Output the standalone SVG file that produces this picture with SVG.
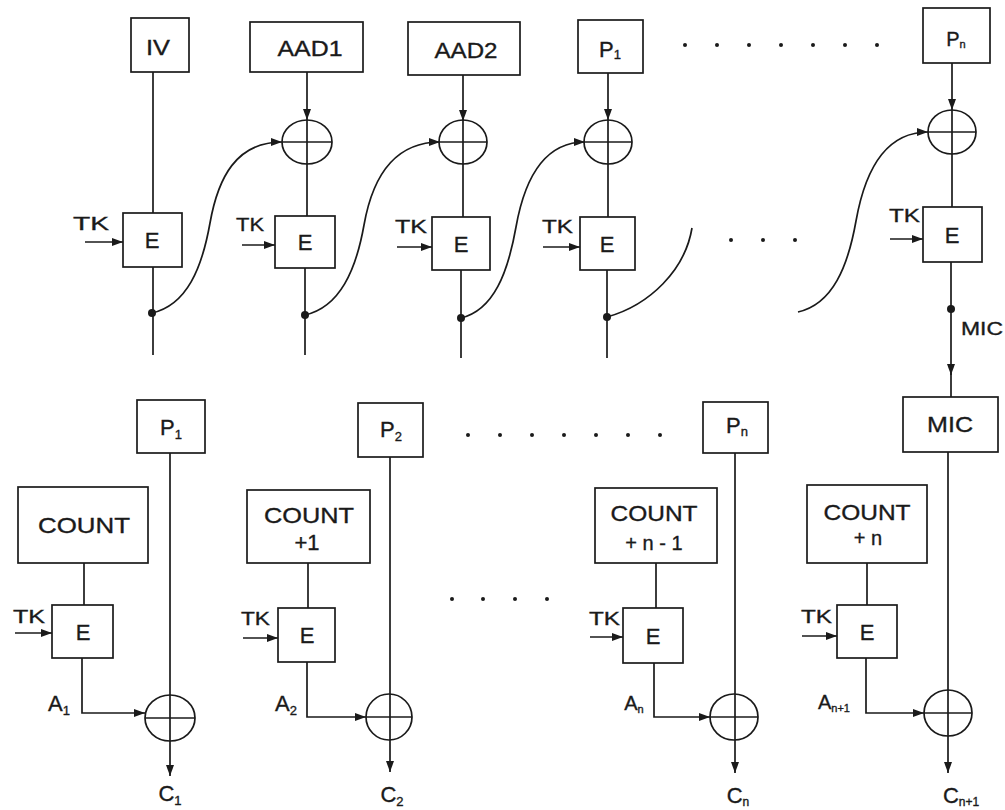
<svg xmlns="http://www.w3.org/2000/svg" width="1005" height="810" viewBox="0 0 1005 810">
<defs>
<marker id="ah" markerUnits="userSpaceOnUse" markerWidth="11" markerHeight="8" refX="11" refY="4" orient="auto">
<path d="M0,0 L11,4 L0,8 z" fill="#1a1a1a"/>
</marker>
<style>
.bx{fill:#fff;stroke:#1a1a1a;stroke-width:1.7}
.ln{fill:none;stroke:#1a1a1a;stroke-width:1.7}
.ar{fill:none;stroke:#1a1a1a;stroke-width:1.7;marker-end:url(#ah)}
.x{fill:none;stroke:#1a1a1a;stroke-width:1.7}
.t{font-family:"Liberation Sans",Arial,sans-serif;fill:#1a1a1a;stroke:#1a1a1a;stroke-width:0.35;text-anchor:middle}
.b{font-size:22px}
.tk{font-family:"Liberation Sans",Arial,sans-serif;fill:#1a1a1a;stroke:#1a1a1a;stroke-width:0.35;font-size:19px}
.s{font-size:13px}
.dot{fill:#1a1a1a}
</style>
</defs>
<rect width="1005" height="810" fill="#fff"/>

<g id="connectors">
<line class="ln" x1="153" y1="72" x2="153" y2="213"/>
<line class="ln" x1="153" y1="267" x2="153" y2="355"/>
<line class="ar" x1="307" y1="72" x2="307" y2="120"/>
<line class="ln" x1="307" y1="164" x2="307" y2="216"/>
<line class="ln" x1="305" y1="268" x2="305" y2="355"/>
<line class="ar" x1="463" y1="75" x2="463" y2="121"/>
<line class="ln" x1="463" y1="164" x2="463" y2="217"/>
<line class="ln" x1="461" y1="270" x2="461" y2="358"/>
<line class="ar" x1="608" y1="73" x2="608" y2="120"/>
<line class="ln" x1="608" y1="164" x2="608" y2="217"/>
<line class="ln" x1="607" y1="270" x2="607" y2="358"/>
<line class="ar" x1="952" y1="63" x2="952" y2="110"/>
<line class="ln" x1="952" y1="154" x2="952" y2="207"/>
<line class="ar" x1="951" y1="262" x2="951" y2="375"/>
<line class="ln" x1="951" y1="370" x2="951" y2="397"/>
<line class="ar" x1="85" y1="242" x2="123" y2="242"/>
<line class="ar" x1="242" y1="245" x2="275" y2="245"/>
<line class="ar" x1="397" y1="247" x2="432" y2="247"/>
<line class="ar" x1="543" y1="247" x2="580" y2="247"/>
<line class="ar" x1="890" y1="239" x2="923" y2="239"/>
<path class="ar" d="M152,313 C187,305 202,268 210,223 S236,142 282,142"/>
<path class="ar" d="M305,315 C340,307 356,270 364,225 S392,142 440,142"/>
<path class="ar" d="M461,318 C494,310 508,272 516,227 S542,142 585,142"/>
<path class="ln" d="M607,317 C650,305 685,270 692,228"/>
<path class="ar" d="M798,312 C833,304 848,266 856,221 S882,132 928,132"/>
<circle class="dot" cx="152" cy="313" r="4"/>
<circle class="dot" cx="305" cy="315" r="4"/>
<circle class="dot" cx="461" cy="318" r="4"/>
<circle class="dot" cx="607" cy="317" r="4"/>
<circle class="dot" cx="951" cy="309" r="4"/>

<line class="ar" x1="170" y1="453" x2="170" y2="776"/>
<line class="ln" x1="84" y1="563" x2="84" y2="605"/>
<path class="ar" d="M82,658 V713 H145"/>
<line class="ar" x1="15" y1="633" x2="52" y2="633"/>
<line class="ar" x1="390" y1="457" x2="390" y2="772"/>
<line class="ln" x1="308" y1="563" x2="308" y2="608"/>
<path class="ar" d="M307,662 V717 H366"/>
<line class="ar" x1="243" y1="638" x2="278" y2="638"/>
<line class="ar" x1="735" y1="453" x2="735" y2="773"/>
<line class="ln" x1="656" y1="563" x2="656" y2="608"/>
<path class="ar" d="M654,663 V717 H710"/>
<line class="ar" x1="590" y1="637" x2="623" y2="637"/>
<line class="ar" x1="948" y1="452" x2="948" y2="773"/>
<line class="ln" x1="867" y1="563" x2="867" y2="605"/>
<path class="ar" d="M866,658 V713 H924"/>
<line class="ar" x1="802" y1="636" x2="837" y2="636"/>

<g class="dot">
<circle cx="685" cy="45" r="2"/><circle cx="717" cy="45" r="2"/><circle cx="749" cy="45" r="2"/><circle cx="781" cy="45" r="2"/><circle cx="813" cy="45" r="2"/><circle cx="845" cy="45" r="2"/><circle cx="877" cy="45" r="2"/>
<circle cx="731" cy="240" r="2"/><circle cx="763" cy="240" r="2"/><circle cx="795" cy="240" r="2"/>
<circle cx="468" cy="435" r="2"/><circle cx="500" cy="435" r="2"/><circle cx="532" cy="435" r="2"/><circle cx="564" cy="435" r="2"/><circle cx="596" cy="435" r="2"/><circle cx="628" cy="435" r="2"/><circle cx="660" cy="435" r="2"/>
<circle cx="452" cy="599" r="2"/><circle cx="483" cy="599" r="2"/><circle cx="515" cy="599" r="2"/><circle cx="547" cy="599" r="2"/>
</g>
</g>

<g id="iv"><rect class="bx" x="131" y="18" width="58" height="54"/><text class="t b" x="158" y="55" textLength="24" lengthAdjust="spacingAndGlyphs">IV</text></g>
<g id="aad1"><rect class="bx" x="250" y="22" width="113" height="50"/><text class="t b" x="310" y="56" textLength="65" lengthAdjust="spacingAndGlyphs">AAD1</text></g>
<g id="aad2"><rect class="bx" x="408" y="22" width="112" height="53"/><text class="t b" x="466" y="58" textLength="63" lengthAdjust="spacingAndGlyphs">AAD2</text></g>
<g id="p1top"><rect class="bx" x="578" y="20" width="65" height="53"/><text class="t b" x="610" y="57">P<tspan class="s" dy="2">1</tspan></text></g>
<g id="pntop"><rect class="bx" x="923" y="8" width="67" height="55"/><text class="t" style="font-size:20px" x="956" y="46">P<tspan class="s" style="font-size:11px" dy="2">n</tspan></text></g>

<g id="xor1"><ellipse class="x" cx="307" cy="142" rx="25" ry="22"/><line class="x" x1="282" y1="142" x2="332" y2="142"/><line class="x" x1="307" y1="120" x2="307" y2="164"/></g>
<g id="xor2"><ellipse class="x" cx="463" cy="142" rx="24" ry="22"/><line class="x" x1="439" y1="142" x2="487" y2="142"/><line class="x" x1="463" y1="120" x2="463" y2="164"/></g>
<g id="xor3"><ellipse class="x" cx="608" cy="142" rx="24" ry="22"/><line class="x" x1="584" y1="142" x2="632" y2="142"/><line class="x" x1="608" y1="120" x2="608" y2="164"/></g>
<g id="xor4"><ellipse class="x" cx="952" cy="132" rx="24" ry="22"/><line class="x" x1="928" y1="132" x2="976" y2="132"/><line class="x" x1="952" y1="110" x2="952" y2="154"/></g>

<g id="e1"><rect class="bx" x="123" y="213" width="59" height="54"/><text class="t b" x="152" y="248">E</text><text class="tk" x="73" y="230" textLength="36" lengthAdjust="spacingAndGlyphs">TK</text></g>
<g id="e2"><rect class="bx" x="275" y="216" width="60" height="52"/><text class="t b" x="305" y="250">E</text><text class="tk" x="236" y="231" textLength="28" lengthAdjust="spacingAndGlyphs">TK</text></g>
<g id="e3"><rect class="bx" x="432" y="217" width="58" height="53"/><text class="t b" x="461" y="252">E</text><text class="tk" x="395" y="233" textLength="32" lengthAdjust="spacingAndGlyphs">TK</text></g>
<g id="e4"><rect class="bx" x="580" y="217" width="55" height="53"/><text class="t b" x="607" y="252">E</text><text class="tk" x="542" y="233" textLength="31" lengthAdjust="spacingAndGlyphs">TK</text></g>
<g id="e5"><rect class="bx" x="923" y="207" width="59" height="55"/><text class="t b" x="952" y="243">E</text><text class="tk" x="889" y="222" textLength="31" lengthAdjust="spacingAndGlyphs">TK</text></g>
<text class="tk" x="961" y="335" textLength="42" lengthAdjust="spacingAndGlyphs">MIC</text>

<g id="micbox"><rect class="bx" x="903" y="397" width="95" height="55"/><text class="t b" x="950" y="432" textLength="46" lengthAdjust="spacingAndGlyphs">MIC</text></g>
<g id="p1"><rect class="bx" x="137" y="400" width="68" height="53"/><text class="t b" x="171" y="435">P<tspan class="s" dy="4">1</tspan></text></g>
<g id="p2"><rect class="bx" x="358" y="403" width="65" height="54"/><text class="t b" x="391" y="437">P<tspan class="s" dy="4">2</tspan></text></g>
<g id="pn"><rect class="bx" x="703" y="402" width="65" height="51"/><text class="t b" x="737" y="433">P<tspan class="s" dy="3">n</tspan></text></g>

<g id="count0"><rect class="bx" x="18" y="487" width="130" height="76"/><text class="t b" x="84" y="533" textLength="92" lengthAdjust="spacingAndGlyphs">COUNT</text></g>
<g id="count1"><rect class="bx" x="247" y="490" width="123" height="73"/><text class="t b" x="309" y="523" textLength="90" lengthAdjust="spacingAndGlyphs">COUNT</text><text class="t b" x="307" y="550">+1</text></g>
<g id="countn1"><rect class="bx" x="595" y="488" width="122" height="75"/><text class="t b" x="654" y="521" textLength="87" lengthAdjust="spacingAndGlyphs">COUNT</text><text class="t" style="font-size:20px" x="654" y="550">+ n - 1</text></g>
<g id="countn"><rect class="bx" x="807" y="485" width="120" height="78"/><text class="t b" x="867" y="520" textLength="87" lengthAdjust="spacingAndGlyphs">COUNT</text><text class="t" style="font-size:20px" x="868" y="545">+ n</text></g>

<g id="eb1"><rect class="bx" x="52" y="605" width="61" height="53"/><text class="t b" x="83" y="640">E</text><text class="tk" x="13" y="623" textLength="32" lengthAdjust="spacingAndGlyphs">TK</text></g>
<g id="eb2"><rect class="bx" x="278" y="608" width="57" height="54"/><text class="t b" x="307" y="643">E</text><text class="tk" x="241" y="625" textLength="29" lengthAdjust="spacingAndGlyphs">TK</text></g>
<g id="ebn"><rect class="bx" x="623" y="608" width="60" height="55"/><text class="t b" x="653" y="644">E</text><text class="tk" x="589" y="625" textLength="31" lengthAdjust="spacingAndGlyphs">TK</text></g>
<g id="ebn1"><rect class="bx" x="837" y="605" width="60" height="53"/><text class="t b" x="867" y="640">E</text><text class="tk" x="801" y="623" textLength="31" lengthAdjust="spacingAndGlyphs">TK</text></g>

<g id="xb1"><ellipse class="x" cx="170" cy="718" rx="25" ry="23"/><line class="x" x1="145" y1="718" x2="195" y2="718"/></g>
<g id="xb2"><ellipse class="x" cx="389" cy="717" rx="23" ry="23"/><line class="x" x1="366" y1="717" x2="412" y2="717"/></g>
<g id="xbn"><ellipse class="x" cx="734" cy="717" rx="24" ry="23"/><line class="x" x1="710" y1="717" x2="758" y2="717"/></g>
<g id="xbn1"><ellipse class="x" cx="948" cy="713" rx="24" ry="23"/><line class="x" x1="924" y1="713" x2="972" y2="713"/></g>

<g id="labels">
<text class="t b" x="59" y="711">A<tspan class="s" dy="4">1</tspan></text>
<text class="t b" x="286" y="711">A<tspan class="s" dy="4">2</tspan></text>
<text class="t" style="font-size:20px" x="634" y="710">A<tspan class="s" style="font-size:11px" dy="3">n</tspan></text>
<text class="t" style="font-size:20px" x="834" y="709">A<tspan class="s" style="font-size:11px" dy="3">n+1</tspan></text>
<text class="t b" x="170" y="801">C<tspan class="s" dy="4">1</tspan></text>
<text class="t b" x="392" y="802">C<tspan class="s" dy="4">2</tspan></text>
<text class="t b" x="738" y="803">C<tspan class="s" style="font-size:12px" dy="3">n</tspan></text>
<text class="t b" x="961" y="803">C<tspan class="s" style="font-size:12px" dy="3">n+1</tspan></text>
</g>
</svg>
